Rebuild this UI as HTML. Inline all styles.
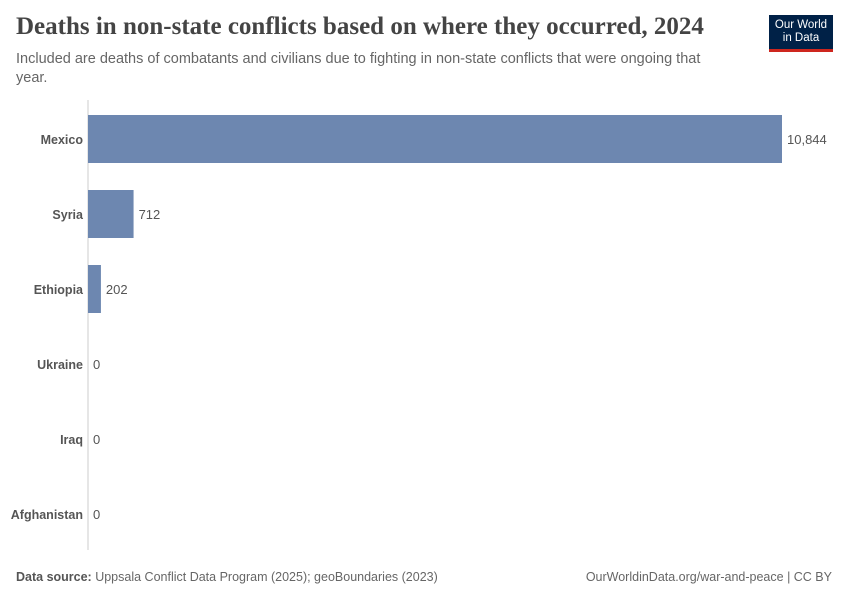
<!DOCTYPE html>
<html><head><meta charset="utf-8"><style>
body{margin:0;width:850px;height:600px;background:#fff;font-family:"Liberation Sans",sans-serif;position:relative;overflow:hidden}
.t{position:absolute;white-space:nowrap}
</style></head><body>
<div class="t" style="left:16px;top:13px;font-family:'Liberation Serif',serif;font-size:25px;font-weight:bold;color:#444">Deaths in non-state conflicts based on where they occurred, 2024</div>
<div class="t" style="left:16px;top:50px;font-size:14.5px;color:#666;line-height:19px;white-space:normal;width:712px">Included are deaths of combatants and civilians due to fighting in non-state conflicts that were ongoing that year.</div>
<div style="position:absolute;left:769px;top:15px;width:64px;height:30px;background:#002147;border-bottom:3px solid #ce261e;color:#fff;font-size:11.5px;line-height:13px;text-align:center;padding-top:4px">Our World<br>in Data</div>
<svg id="chart" width="850" height="600" style="position:absolute;left:0;top:0"></svg>
<div class="t" style="left:16px;top:570px;font-size:12.5px;color:#666"><b style="color:#555">Data source:</b> Uppsala Conflict Data Program (2025); geoBoundaries (2023)</div>
<div class="t" style="right:18px;top:570px;font-size:12.5px;color:#666">OurWorldinData.org/war-and-peace | CC BY</div>
<script>
const categories=["Mexico","Syria","Ethiopia","Ukraine","Iraq","Afghanistan"];
const values=[10844,712,202,0,0,0];
const labels=["10,844","712","202","0","0","0"];
const svg=document.getElementById('chart');
const NS="http://www.w3.org/2000/svg";
const x0=88,xMax=782,maxV=10844;
const xs=v=>x0+(v/maxV)*(xMax-x0);
const ys=i=>115+i*75;
const bh=48;
const ax=document.createElementNS(NS,'line');


ax.setAttribute('x1',x0);ax.setAttribute('x2',x0);ax.setAttribute('y1',100);ax.setAttribute('y2',550);
ax.setAttribute('stroke','#ccc');ax.setAttribute('stroke-width','1');
svg.appendChild(ax);
categories.forEach((c,i)=>{
  const r=document.createElementNS(NS,'rect');
  
  
  r.setAttribute('x',x0);r.setAttribute('y',ys(i));
  r.setAttribute('width',Math.max(0,xs(values[i])-x0));r.setAttribute('height',bh);
  r.setAttribute('fill','#6d87b0');
  svg.appendChild(r);
  const t=document.createElementNS(NS,'text');
  
  
  t.setAttribute('x',x0-5);t.setAttribute('y',ys(i)+bh/2+5);
  t.setAttribute('text-anchor','end');t.setAttribute('font-size','12.5');t.setAttribute('font-weight','bold');t.setAttribute('fill','#555');
  t.textContent=c;svg.appendChild(t);
  const v=document.createElementNS(NS,'text');
  
  
  v.setAttribute('x',xs(values[i])+5);v.setAttribute('y',ys(i)+bh/2+5);
  v.setAttribute('font-size','13');v.setAttribute('fill','#555');
  v.textContent=labels[i];svg.appendChild(v);
});
</script>
</body></html>
